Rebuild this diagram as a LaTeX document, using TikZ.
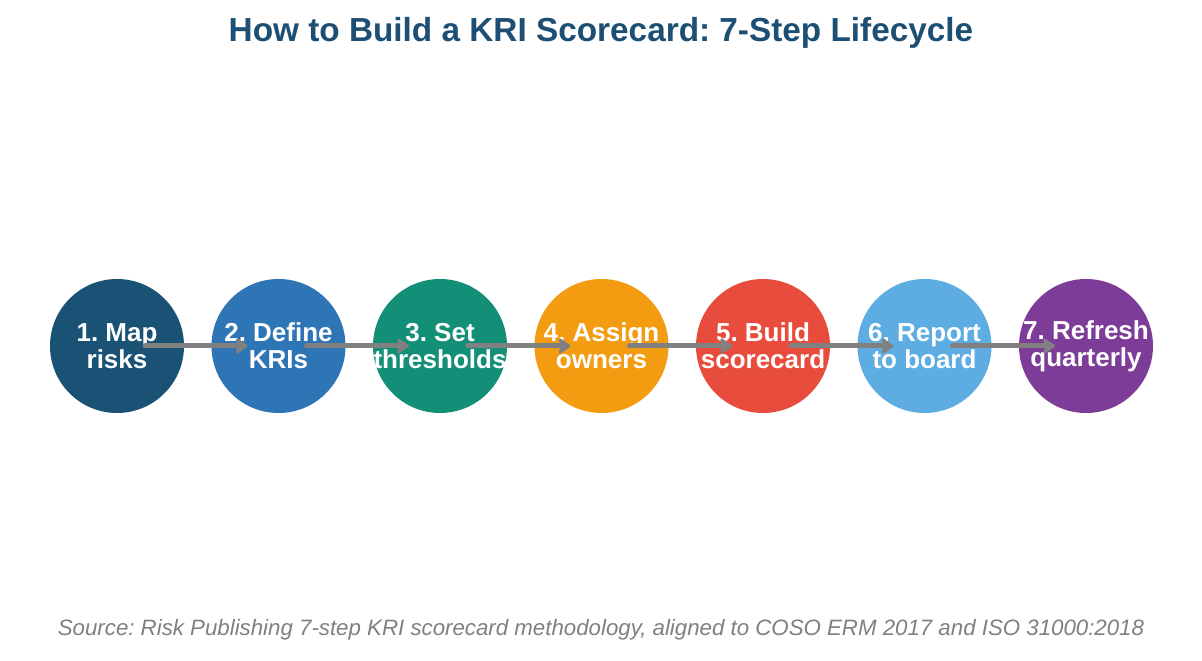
\documentclass[tikz,border=0pt]{standalone}
\usepackage{fontspec}
\setmainfont{Liberation Sans}
\usetikzlibrary{arrows.meta}
\frenchspacing

\begin{document}
\begin{tikzpicture}[x=0.75pt,y=0.75pt,
  stepdot/.style={circle,inner sep=-12pt,minimum size=100.5pt,text=white,align=center,
    font=\fontsize{19.5}{20.5}\selectfont\bfseries},
  flow/.style={draw=arrowColor,line width=3.75pt,line cap=round,
    -{Stealth[length=10.5pt,width=14pt,inset=2.5pt,round]}}]
\definecolor[named]{titleColor}{rgb}{0.11,0.31,0.45}
\definecolor[named]{arrowColor}{rgb}{0.50,0.50,0.50}
\definecolor[named]{noteColor}{rgb}{0.50,0.50,0.50}
\definecolor[named]{stepA}{HTML}{1A5276}
\definecolor[named]{stepB}{HTML}{2E75B6}
\definecolor[named]{stepC}{HTML}{148F77}
\definecolor[named]{stepD}{HTML}{F39C12}
\definecolor[named]{stepE}{HTML}{E74C3C}
\definecolor[named]{stepF}{HTML}{5DADE2}
\definecolor[named]{stepG}{HTML}{7D3C98}
\path[use as bounding box,fill=white] (0,0) rectangle (1202,660);

% title
\node[text=titleColor,font=\fontsize{25}{28}\selectfont\bfseries] (title) at (601,627) {How to Build a KRI Scorecard: 7-Step Lifecycle};

% steps
\node[stepdot,fill=stepA] (s1) at ( 117.0,314) {1. Map\\risks};
\node[stepdot,fill=stepB] (s2) at ( 278.5,314) {2. Define\\KRIs};
\node[stepdot,fill=stepC] (s3) at ( 440.0,314) {3. Set\\thresholds};
\node[stepdot,fill=stepD] (s4) at ( 601.5,314) {4. Assign\\owners};
\node[stepdot,fill=stepE] (s5) at ( 763.0,314) {5. Build\\scorecard};
\node[stepdot,fill=stepF] (s6) at ( 924.5,314) {6. Report\\to board};
\node[stepdot,fill=stepG] (s7) at (1086.0,314) {7. Refresh\\quarterly};

% arrows
\draw[flow] ([xshift=21pt]s1.center) -- ([xshift=-23.25pt]s2.center);
\draw[flow] ([xshift=21pt]s2.center) -- ([xshift=-23.25pt]s3.center);
\draw[flow] ([xshift=21pt]s3.center) -- ([xshift=-23.25pt]s4.center);
\draw[flow] ([xshift=21pt]s4.center) -- ([xshift=-23.25pt]s5.center);
\draw[flow] ([xshift=21pt]s5.center) -- ([xshift=-23.25pt]s6.center);
\draw[flow] ([xshift=21pt]s6.center) -- ([xshift=-23.25pt]s7.center);

% source note
\node[text=noteColor,font=\fontsize{16.7}{20}\selectfont\itshape] (note) at (601,30) {Source: Risk Publishing 7-step KRI scorecard methodology, aligned to COSO ERM 2017 and ISO 31000:2018};
\end{tikzpicture}
\end{document}
